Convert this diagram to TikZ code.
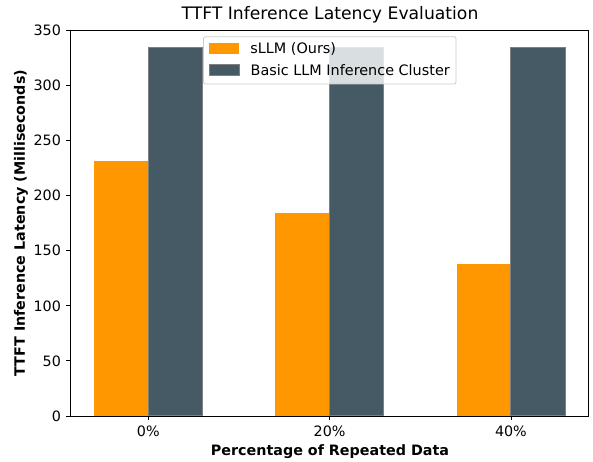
\documentclass[tikz,border=0pt]{standalone}
\usepackage{fontspec}
\setmainfont{DejaVu Sans}
\usetikzlibrary{positioning}
\definecolor{sllmorange}{HTML}{FF9800}
\definecolor{clustergray}{HTML}{455A64}
\definecolor{legendedge}{HTML}{CCCCCC}

\begin{document}
\begin{tikzpicture}[x=1pt, y=1pt,
  ticklabel/.style={font=\fontsize{14.3}{17}\selectfont, inner sep=0pt},
  axislabel/.style={font=\fontsize{14.3}{17}\selectfont\bfseries, inner sep=0pt},
  legendtext/.style={font=\fontsize{14.4}{17}\selectfont, inner sep=0pt, anchor=west},
  ourbar/.style={fill=sllmorange},
  basebar/.style={fill=clustergray, draw=gray, line width=1pt},
  patchbox/.style={minimum width=30pt, minimum height=10.7pt, inner sep=0pt}
]
\useasboundingbox (0,0) rectangle (593,462);

\begin{scope}[shift={(148.3pt,46pt)}, x=181.3pt, y=1.102pt]
  % bars
  \foreach \i/\ours/\base in {0/231/334, 1/184/334, 2/138/334} {
    \fill[ourbar] (\i-0.3,0) rectangle (\i,\ours);
    \draw[basebar] (\i,0) rectangle (\i+0.3,\base);
  }
  % axes
  \draw[line width=0.8pt] (-0.43,0) rectangle (2.43,350);
  \foreach \v in {0,50,...,350} {
    \draw[line width=0.8pt] (-0.43,\v) -- ++(-4.5pt,0)
      node[ticklabel, left=4.5pt] (ytick\v) {\v};
  }
  \foreach \i/\lab in {0/0, 1/20, 2/40} {
    \draw[line width=0.8pt] (\i,0) -- ++(0,-4.5pt)
      node[ticklabel, below=4.5pt] (xtick\lab) {\lab\%};
  }
\end{scope}

% legend
\draw[draw=legendedge, fill=white, fill opacity=0.8, rounded corners=2pt, line width=0.8pt]
  (203.5,425.3) rectangle (456,378);
\node[patchbox, fill=sllmorange] (oursPatch) at (224,413.3) {};
\node[patchbox, fill=clustergray, draw=gray, line width=1pt] (basePatch) at (224,392.3) {};
\node[legendtext, right=11pt of oursPatch] (oursText) {sLLM (Ours)};
\node[legendtext, right=11pt of basePatch] (baseText) {Basic LLM Inference Cluster};

% labels
\node[font=\fontsize{17.2}{20}\selectfont, inner sep=0pt] (title) at (330,447)
  {TTFT Inference Latency Evaluation};
\node[axislabel] (xlabel) at (330,10.5) {Percentage of Repeated Data};
\node[axislabel, rotate=90] (ylabel) at (21,239) {TTFT Inference Latency (Milliseconds)};
\end{tikzpicture}
\end{document}
